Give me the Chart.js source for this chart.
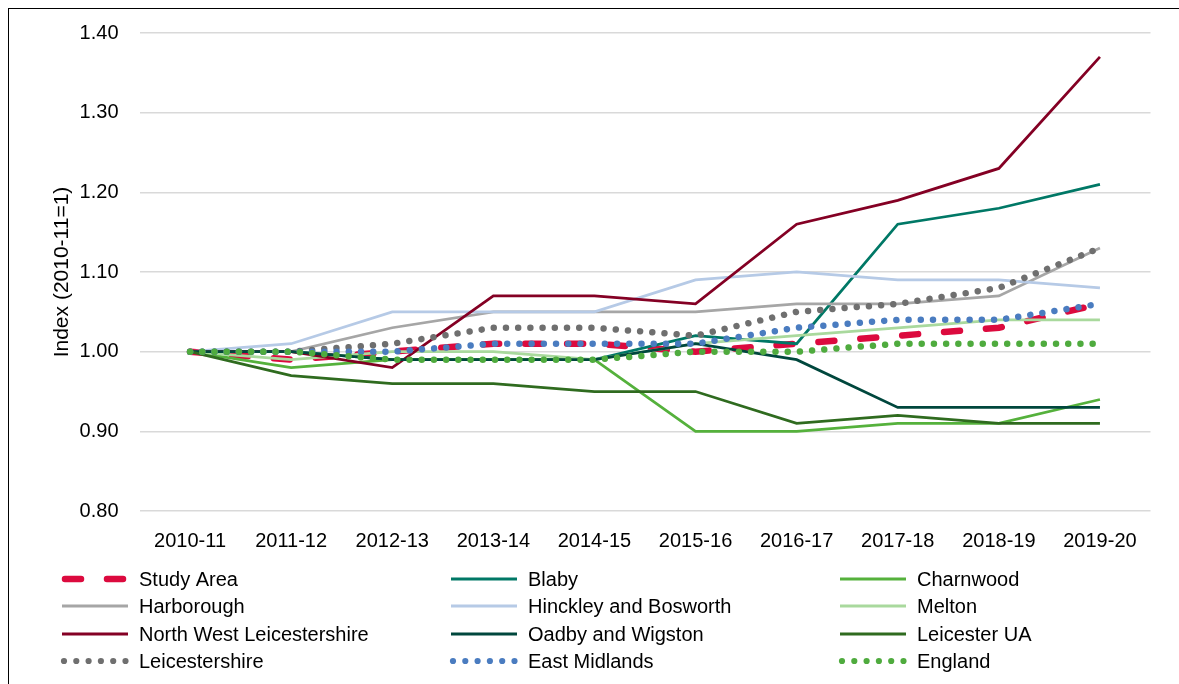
<!DOCTYPE html>
<html>
<head>
<meta charset="utf-8">
<script src="https://cdn.jsdelivr.net/npm/chart.js@4.4.1/dist/chart.umd.min.js"></script>
<style>
  html, body { margin: 0; padding: 0; background: #fff; overflow: hidden; }
  #wrap { position: relative; width: 1179px; height: 684px; }
  #frame { position: absolute; left: 8px; top: 8px; width: 1300px; height: 800px; border: 1.5px solid #000; box-sizing: border-box; }
  canvas { position: absolute; left: 0; top: 0; }
</style>
</head>
<body>
<div id="wrap">
  <div id="frame"></div>
  <canvas id="chart" width="1179" height="684"></canvas>
</div>
<script>
const years = ['2010-11', '2011-12', '2012-13', '2013-14', '2014-15', '2015-16', '2016-17', '2017-18', '2018-19', '2019-20'];

const studyArea      = [1.00, 0.99, 1.00, 1.01, 1.01, 1.00, 1.01, 1.02, 1.03, 1.06];
const blaby          = [1.00, 1.00, 0.99, 0.99, 0.99, 1.02, 1.01, 1.16, 1.18, 1.21];
const charnwood      = [1.00, 0.98, 0.99, 0.99, 0.99, 0.90, 0.90, 0.91, 0.91, 0.94];
const harborough     = [1.00, 1.00, 1.03, 1.05, 1.05, 1.05, 1.06, 1.06, 1.07, 1.13];
const hinckley       = [1.00, 1.01, 1.05, 1.05, 1.05, 1.09, 1.10, 1.09, 1.09, 1.08];
const melton         = [1.00, 0.99, 1.00, 1.00, 0.99, 1.01, 1.02, 1.03, 1.04, 1.04];
const nwLeics        = [1.00, 1.00, 0.98, 1.07, 1.07, 1.06, 1.16, 1.19, 1.23, 1.37];
const oadby          = [1.00, 1.00, 0.99, 0.99, 0.99, 1.01, 0.99, 0.93, 0.93, 0.93];
const leicesterUA    = [1.00, 0.97, 0.96, 0.96, 0.95, 0.95, 0.91, 0.92, 0.91, 0.91];
const leicestershire = [1.00, 1.00, 1.01, 1.03, 1.03, 1.02, 1.05, 1.06, 1.08, 1.13];
const eastMidlands   = [1.00, 1.00, 1.00, 1.01, 1.01, 1.01, 1.03, 1.04, 1.04, 1.06];
const england        = [1.00, 1.00, 0.99, 0.99, 0.99, 1.00, 1.00, 1.01, 1.01, 1.01];

const yTicks = [0.8, 0.9, 1.0, 1.1, 1.2, 1.3, 1.4];

const FONT = '"Liberation Sans", Arial, sans-serif';

// line styles: solid, dashed (study area) and round dotted (comparators)
const solid = (label, data, color) => ({
  label, data, borderColor: color, backgroundColor: color, borderWidth: 2.75, kind: 'solid'
});
const dotted = (label, data, color) => ({
  label, data, borderColor: color, backgroundColor: color, borderWidth: 6.5,
  borderDash: [0.01, 12.2], borderCapStyle: 'round', kind: 'dot'
});

const datasets = [
  { label: 'Study Area', data: studyArea, borderColor: '#dc0a3e', backgroundColor: '#dc0a3e',
    borderWidth: 6.5, borderDash: [16, 26], borderCapStyle: 'round', kind: 'dash' },
  solid('Blaby', blaby, '#007866'),
  solid('Charnwood', charnwood, '#55b13c'),
  solid('Harborough', harborough, '#a6a6a6'),
  solid('Hinckley and Bosworth', hinckley, '#b6cae6'),
  solid('Melton', melton, '#a9d99d'),
  solid('North West Leicestershire', nwLeics, '#840024'),
  solid('Oadby and Wigston', oadby, '#00473d'),
  solid('Leicester UA', leicesterUA, '#2f6b1f'),
  dotted('Leicestershire', leicestershire, '#6f6f6f'),
  dotted('East Midlands', eastMidlands, '#4a7cc0'),
  dotted('England', england, '#4fab3e'),
];
// later series are painted over earlier ones
datasets.forEach((d, i) => {
  d.order = datasets.length - i;
  d.pointRadius = 0;
  d.tension = 0;
  d.fill = false;
});

// three-column legend below the plot
const gridLegend = {
  id: 'gridLegend',
  afterDraw(chart) {
    const ctx = chart.ctx;
    const colX = [62, 451, 840];
    const rowY = [579, 606, 634, 661];
    ctx.save();
    ctx.font = '20px ' + FONT;
    ctx.textBaseline = 'middle';
    datasets.forEach((d, i) => {
      const x = colX[i % 3];
      const y = rowY[Math.floor(i / 3)];
      ctx.strokeStyle = d.borderColor;
      ctx.fillStyle = d.borderColor;
      ctx.setLineDash([]);
      ctx.beginPath();
      if (d.kind === 'dash') {
        ctx.lineWidth = 6.5;
        ctx.lineCap = 'round';
        [x + 3, x + 45].forEach(sx => { ctx.moveTo(sx, y); ctx.lineTo(sx + 16, y); });
        ctx.stroke();
      } else if (d.kind === 'dot') {
        for (let k = 0; k < 6; k++) {
          ctx.beginPath();
          ctx.arc(x + 2 + k * 12.3, y, 3.1, 0, Math.PI * 2);
          ctx.fill();
        }
      } else {
        ctx.lineWidth = 3;
        ctx.lineCap = 'butt';
        ctx.moveTo(x, y); ctx.lineTo(x + 66, y);
        ctx.stroke();
      }
      ctx.fillStyle = '#000';
      ctx.fillText(d.label, x + 77, y + 1);
    });
    ctx.restore();
  }
};

new Chart(document.getElementById('chart').getContext('2d'), {
  type: 'line',
  data: { labels: years, datasets },
  plugins: [gridLegend],
  options: {
    responsive: false,
    animation: false,
    layout: { padding: { top: 33, right: 28.5, bottom: 0, left: 0 } },
    scales: {
      x: {
        offset: true,
        afterFit: (scale) => { scale.height = 173; },
        grid: { display: false, drawTicks: false },
        border: { display: false },
        ticks: {
          color: '#000', font: { family: FONT, size: 20 },
          padding: 18, maxRotation: 0, autoSkip: false
        }
      },
      y: {
        min: 0.8,
        max: 1.4,
        afterFit: (scale) => { scale.width = 139.5; },
        afterBuildTicks: (scale) => { scale.ticks = yTicks.map(v => ({ value: v })); },
        grid: { color: '#d9d9d9', lineWidth: 1.5, drawTicks: false },
        border: { display: false },
        ticks: {
          color: '#000', font: { family: FONT, size: 20 }, padding: 21,
          callback: (v) => Number(v).toFixed(2)
        },
        title: {
          display: true, text: 'Index (2010-11=1)', color: '#000',
          font: { family: FONT, size: 21 }, padding: { top: 50, bottom: 0 }
        }
      }
    },
    plugins: {
      legend: { display: false },
      tooltip: { enabled: false }
    }
  }
});
</script>
</body>
</html>
